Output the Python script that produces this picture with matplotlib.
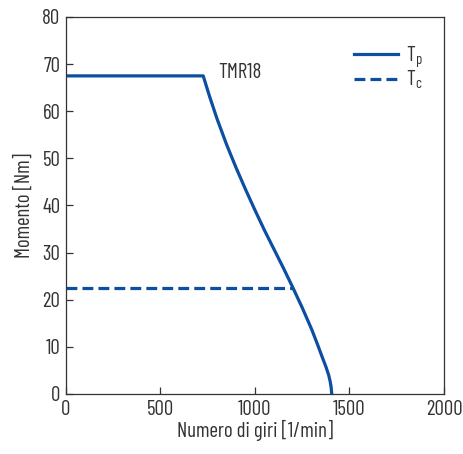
import matplotlib
matplotlib.use("Agg")
import matplotlib.pyplot as plt

plt.rcParams["font.family"] = ["Barlow Condensed", "DejaVu Sans"]
plt.rcParams["mathtext.default"] = "regular"

# torque curve of the TMR18 motor
speed_tp = [0, 726, 760, 800, 850, 900, 950, 1000, 1050, 1100, 1150,
            1200, 1250, 1300, 1330, 1355, 1375, 1390, 1398, 1403, 1406]
torque_tp = [67.5, 67.5, 63.1, 58.3, 52.9, 48.0, 43.4, 39.0, 34.75, 30.75, 26.75,
             22.6, 18.3, 13.7, 10.6, 7.9, 5.8, 4.0, 2.6, 1.4, 0.0]

# continuous torque
speed_tc = [0, 1201]
torque_tc = [22.5, 22.5]

motor_name = "TMR18"
motor_label_pos = (805, 68.2)

blue = "#0b4ea2"
grey = "#333333"
fs = 15

fig = plt.figure(figsize=(4.64, 4.54), dpi=100)
ax = fig.add_axes([0.1422, 0.1322, 0.8147, 0.8304])

ax.plot(speed_tp, torque_tp, color=blue, lw=2.3, label="T$_p$",
        solid_joinstyle="round")
ax.plot(speed_tc, torque_tc, color=blue, lw=2.3, label="T$_c$",
        dashes=(3.4, 1.6), dash_capstyle="butt")

ax.text(*motor_label_pos, motor_name, fontsize=fs, color=grey,
        ha="left", va="center")

ax.set_xlim(0, 2000)
ax.set_ylim(0, 80)
ax.set_xticks([0, 500, 1000, 1500, 2000])
ax.set_yticks(range(0, 81, 10))
ax.tick_params(direction="in", length=5, width=0.9, color=grey,
               labelcolor=grey, labelsize=fs, pad=4)
for sp in ax.spines.values():
    sp.set_color(grey)
    sp.set_linewidth(0.9)

ax.set_xlabel("Numero di giri [1/min]", fontsize=fs, color=grey, labelpad=1)
ax.set_ylabel("Momento [Nm]", fontsize=fs, color=grey, labelpad=6)

ax.legend(loc="upper left", bbox_to_anchor=(0.735, 0.955), frameon=False,
          fontsize=fs, handlelength=2.1, handletextpad=0.4,
          labelspacing=-0.05, borderpad=0, labelcolor=grey)

fig.savefig("out.png", dpi=100)
